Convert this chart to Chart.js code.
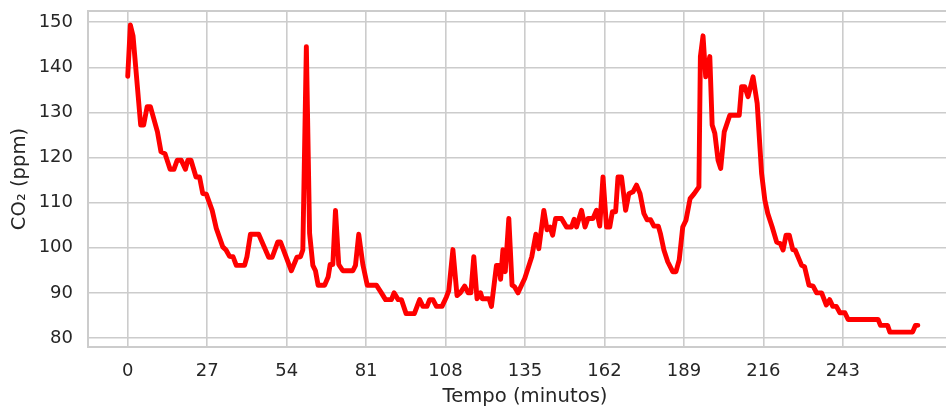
<!DOCTYPE html>
<html>
<head>
<meta charset="utf-8">
<script src="https://cdn.jsdelivr.net/npm/chart.js@4/dist/chart.umd.min.js"></script>
<style>
  html, body { margin: 0; padding: 0; background: #fff; overflow: hidden; }
  #wrap { position: absolute; left: 0; top: 0; width: 962px; height: 407px; }
</style>
</head>
<body>
<div id="wrap"><canvas id="co2" width="962" height="407"></canvas></div>
<script>
// minutes and CO2 readings
var minutes = [
  0, 0.9, 1.8, 4.4, 5.4, 6.6, 7.7, 10.1, 11.3, 12.7, 14.4, 15.7, 16.8, 18.2, 19.6, 20.4, 21.5,
  23.2, 24.4, 25.5, 26.7, 28.7, 30.1, 32.3, 33.4, 34.6, 35.8, 36.9, 39.7, 40.5, 41.7, 44.5,
  47.9, 49.1, 51, 51.9, 55.6, 57.5, 58.7, 59.5, 60.7, 61.8, 62.9, 63.8, 64.7, 66.9, 68.1,
  68.8, 69.7, 70.6, 71.7, 73.1, 76.5, 77.4, 78.5, 79.9, 81.4, 84.5, 86.2, 87.6, 89.6, 90.5,
  91.9, 93, 94.6, 97.4, 99.2, 100.3, 101.7, 102.6, 103.7, 104.9, 106.8, 108.3, 109.1, 110.5,
  111.9, 113, 114.5, 115.7, 116.6, 117.6, 118.7, 119.9, 120.5, 122.8, 123.6, 125.3, 126.2,
  126.7, 127.5, 128.3, 129.5, 130.6, 131.4, 132.6, 134.9, 137.3, 138.7, 139.7, 141.4, 142.5,
  143.5, 144.4, 145.4, 147.4, 149.1, 150.8, 151.7, 152.5, 154.2, 155.4, 156.4, 158.1, 159.3,
  160.4, 161.5, 162.7, 163.8, 164.7, 165.8, 166.6, 167.8, 169.2, 170.3, 171.7, 172.9, 174.1,
  175.4, 176.5, 177.7, 178.8, 180.3, 181, 182.2, 183.5, 185.2, 186.3, 187.4, 188.6, 189.7,
  191.1, 192.5, 194.1, 194.6, 195.5, 196.4, 197.8, 198.6, 199.5, 200.6, 201.5, 202.7, 204.6,
  207.8, 208.6, 209.7, 210.8, 212.5, 213.9, 215.4, 216.5, 217.5, 219, 220.5, 221.8, 222.7,
  223.7, 224.8, 226, 226.8, 229, 230, 231.5, 232.9, 234.1, 235.8, 237.4, 238.5, 239.6, 240.8,
  242, 243.7, 244.8, 255, 255.8, 258.2, 259, 266.7, 267.7, 268.5
];
var co2 = [
  138, 149.4, 147, 127.2, 127.2, 131.3, 131.3, 125.7, 121.3, 120.8, 117.4, 117.4, 119.4, 119.4, 117.4, 119.4, 119.4,
  115.7, 115.7, 112, 111.9, 108.3, 104.3, 100.2, 99.5, 98.1, 98, 96.1, 96.1, 98, 103, 103,
  97.9, 97.9, 101.3, 101.3, 94.9, 97.9, 98, 99.5, 144.6, 103.2, 96.1, 94.9, 91.7, 91.7, 93.5,
  96.3, 96.3, 108.3, 96.3, 94.9, 94.9, 96.1, 103, 96.3, 91.7, 91.7, 90, 88.5, 88.5, 90,
  88.5, 88.5, 85.4, 85.4, 88.5, 87, 87, 88.5, 88.5, 87, 87, 89.1, 90.5, 99.6,
  89.4, 90, 91.5, 90, 90, 98, 88.7, 90, 88.7, 88.7, 87, 96.1, 96.1,
  93, 99.6, 94.7, 106.5, 91.7, 91.4, 90, 93.2, 98, 103, 99.8, 108.3, 104,
  104.6, 102.8, 106.5, 106.5, 104.6, 104.6, 106.3, 104.6, 108.3, 104.6, 106.5, 106.5, 108.3,
  104.8, 115.7, 104.6, 104.6, 108, 108, 115.7, 115.7, 108.3, 112, 112.4, 113.9, 112,
  107.6, 106.2, 106.2, 104.8, 104.8, 103.2, 99.5, 96.9, 94.7, 94.7, 97.3, 104.6, 106.1,
  110.9, 112, 113.5, 142.4, 147, 137.9, 142.4, 127.2, 125.4, 119.4, 117.6, 125.7, 129.4,
  129.4, 135.7, 135.7, 133.5, 137.9, 132, 116.5, 110.6, 107.6, 104.6, 101.3, 100.9, 99.5,
  102.8, 102.8, 99.6, 99.5, 96.1, 95.8, 91.7, 91.5, 90, 90, 87.3, 88.5, 87, 87,
  85.6, 85.6, 84.1, 84.1, 82.8, 82.8, 81.3, 81.3, 82.8, 82.8
];
var xTicks = [0, 27, 54, 81, 108, 135, 162, 189, 216, 243];
var yTicks = [80, 90, 100, 110, 120, 130, 140, 150];

var points = minutes.map(function (m, i) { return { x: m, y: co2[i] }; });
var textColor = '#262626';
var gridColor = '#cccccc';

// box round the plot area, like the seaborn whitegrid frame
var frame = {
    id: 'frame',
    beforeDatasetsDraw: function (chart) {
        var a = chart.chartArea, ctx = chart.ctx;
        ctx.save();
        ctx.strokeStyle = gridColor;
        ctx.lineWidth = 2;
        ctx.strokeRect(a.left, a.top, a.right - a.left, a.bottom - a.top);
        ctx.restore();
    }
};

function noPad(scale) {
    scale.paddingTop = 0;
    scale.paddingBottom = 0;
    scale.paddingLeft = 0;
    scale.paddingRight = 0;
}

var chart = new Chart(document.getElementById('co2'), {
    type: 'line',
    data: {
        datasets: [{
            label: 'CO2',
            data: points,
            borderColor: '#ff0000',
            borderWidth: 4.9,
            borderJoinStyle: 'round',
            borderCapStyle: 'round',
            pointRadius: 0,
            tension: 0,
            fill: false
        }]
    },
    options: {
        responsive: false,
        animation: false,
        devicePixelRatio: 1,
        layout: { padding: { top: 11, left: 0, right: 0, bottom: 0 } },
        plugins: {
            legend: { display: false },
            tooltip: { enabled: false }
        },
        scales: {
            x: {
                type: 'linear',
                min: -13.5,
                max: 283.5,
                afterBuildTicks: function (s) { s.ticks = xTicks.map(function (v) { return { value: v }; }); },
                afterFit: function (s) { s.height = 60; noPad(s); },
                grid: { color: gridColor, lineWidth: 1.6, drawTicks: false },
                border: { display: false },
                ticks: {
                    autoSkip: false,
                    maxRotation: 0,
                    padding: 14,
                    color: textColor,
                    font: { family: 'DejaVu Sans', size: 18 }
                },
                title: {
                    display: true,
                    text: 'Tempo (minutos)',
                    color: textColor,
                    padding: { top: 0, bottom: 0 },
                    font: { family: 'DejaVu Sans', size: 19.6, lineHeight: 1 }
                }
            },
            y: {
                min: 78,
                max: 152.5,
                afterBuildTicks: function (s) { s.ticks = yTicks.map(function (v) { return { value: v }; }); },
                afterFit: function (s) { s.width = 88; noPad(s); },
                grid: { color: gridColor, lineWidth: 1.6, drawTicks: false },
                border: { display: false },
                ticks: {
                    autoSkip: false,
                    padding: 15,
                    color: textColor,
                    font: { family: 'DejaVu Sans', size: 18 }
                },
                title: {
                    display: true,
                    text: 'CO\u2082 (ppm)',
                    color: textColor,
                    padding: { top: 10, bottom: 0 },
                    font: { family: 'DejaVu Sans', size: 19.6, lineHeight: 1 }
                }
            }
        }
    },
    plugins: [frame]
});
</script>
</body>
</html>
